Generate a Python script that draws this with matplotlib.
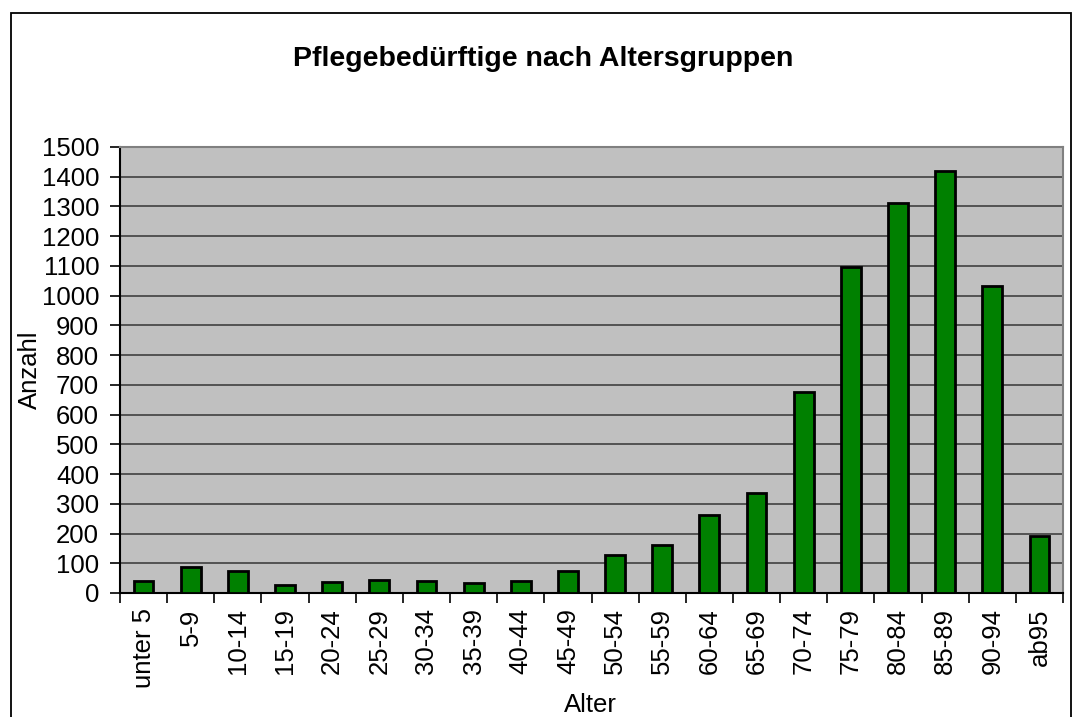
import matplotlib
matplotlib.use("Agg")
import matplotlib.pyplot as plt
from matplotlib.patches import Rectangle
import numpy as np

categories = ["unter 5", "5-9", "10-14", "15-19", "20-24", "25-29", "30-34", "35-39",
              "40-44", "45-49", "50-54", "55-59", "60-64", "65-69", "70-74", "75-79",
              "80-84", "85-89", "90-94", "ab95"]
values = [40, 88, 75, 28, 36, 45, 40, 33, 42, 75, 127, 162, 262, 338, 677, 1095,
          1310, 1419, 1033, 192]
yticks = list(range(0, 1501, 100))

plt.rcParams['font.family'] = ['Liberation Sans', 'DejaVu Sans']

W, H = 1075, 717
fig = plt.figure(figsize=(W / 100, H / 100), dpi=100)
fig.patch.set_facecolor("white")

left, right, top, bottom = 120, 1063, 147, 593
ax = fig.add_axes([left / W, 1 - bottom / H, (right - left) / W, (bottom - top) / H])
ax.set_facecolor("#C0C0C0")

x = np.arange(len(categories))
ax.set_axisbelow(True)
ax.yaxis.grid(True, color="#404040", linewidth=1.2)
ax.bar(x, values, width=0.42, color="#008000", edgecolor="black", linewidth=2, zorder=3)

ax.set_xlim(-0.5, len(categories) - 0.5)
ax.set_ylim(0, 1500)
ax.set_yticks(yticks)
ax.set_yticklabels([str(v) for v in yticks], fontsize=18.5)
ax.set_xticks(np.arange(len(categories) + 1) - 0.5)
ax.set_xticklabels([])
ax.set_xticks(x, minor=True)
ax.set_xticklabels(categories, minor=True, rotation=90, fontsize=18.5)
ax.tick_params(axis="x", which="minor", length=0, pad=11)
ax.tick_params(axis="x", which="major", length=7, width=1.2, color="black")
ax.tick_params(axis="y", length=7, width=1.2, color="black", pad=8)

for s in ["top", "right"]:
    ax.spines[s].set_color("#808080")
    ax.spines[s].set_linewidth(1.5)
for s in ["left", "bottom"]:
    ax.spines[s].set_color("black")
    ax.spines[s].set_linewidth(1.5)

fig.text(30 / W, 1 - 370 / H, "Anzahl", rotation=90, ha="center", va="center", fontsize=18.5)
fig.text(590 / W, 1 - 705 / H, "Alter", ha="center", va="center", fontsize=18.5)

fig.text(543 / W, 1 - 59 / H, "Pflegebedürftige nach Altersgruppen", ha="center", va="center",
         fontsize=20.5, fontweight="bold")

fig.patches.append(Rectangle((11 / W, -0.05), (1071 - 11) / W, 1.05 - 13 / H,
                             transform=fig.transFigure, fill=False, edgecolor="black",
                             linewidth=1.3))

fig.savefig("out.png", dpi=100)
